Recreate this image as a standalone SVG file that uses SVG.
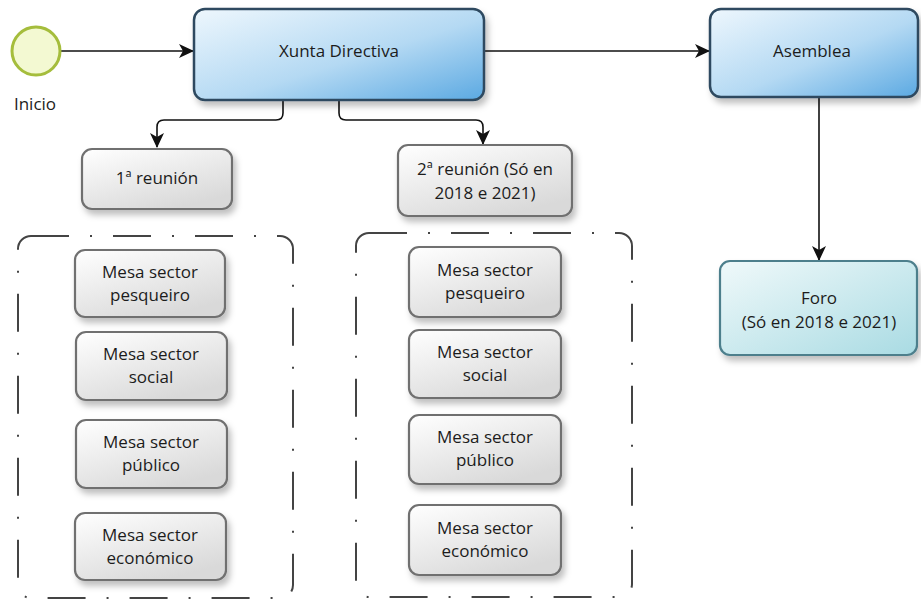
<svg xmlns="http://www.w3.org/2000/svg" width="921" height="605" viewBox="0 0 921 605">
<style>
text{font-family:"Open Sans","Noto Sans","Liberation Sans",sans-serif;font-size:17px;fill:#1c1c1c;text-anchor:middle}
.blue{fill:url(#gBlue);stroke:#2e4a60;stroke-width:2.5}
.gray{fill:url(#gGray);stroke:#707070;stroke-width:2.2}
.foro{fill:url(#gForo);stroke:#4d7f8c;stroke-width:2.2}
.cont{fill:none;stroke:#444;stroke-width:2;stroke-dasharray:38 21 2 21}
.conn{fill:none;stroke:#111;stroke-width:1.6}
</style>
<defs>
<linearGradient id="gBlue" x1="0" y1="0" x2="1" y2="1">
<stop offset="0" stop-color="#eef7fd"/><stop offset="0.55" stop-color="#b4d9f3"/><stop offset="1" stop-color="#5ba9e2"/>
</linearGradient>
<linearGradient id="gGray" x1="0" y1="0" x2="0.6" y2="1">
<stop offset="0" stop-color="#ffffff"/><stop offset="1" stop-color="#d9d9d9"/>
</linearGradient>
<linearGradient id="gForo" x1="0" y1="0" x2="1" y2="1">
<stop offset="0" stop-color="#f0f9fa"/><stop offset="1" stop-color="#a9dbe3"/>
</linearGradient>
<filter id="sh" x="-10%" y="-10%" width="130%" height="140%">
<feDropShadow dx="3" dy="5" stdDeviation="3" flood-color="#000" flood-opacity="0.25"/>
</filter>
<marker id="arr" markerUnits="userSpaceOnUse" markerWidth="16" markerHeight="14" refX="14" refY="7" orient="auto">
<path d="M0,0 L15,7 L0,14 L4,7 Z" fill="#111"/>
</marker>
</defs>

<g id="connectors">
<path class="conn" d="M61,51 H193" marker-end="url(#arr)"/>
<path class="conn" d="M484,51 H709" marker-end="url(#arr)"/>
<path class="conn" d="M819,97 V260" marker-end="url(#arr)"/>
<path class="conn" d="M283,100 V113 Q283,120 276,120 H164 Q157,120 157,127 V147" marker-end="url(#arr)"/>
<path class="conn" d="M339,100 V113 Q339,120 346,120 H476 Q483,120 483,127 V144" marker-end="url(#arr)"/>
</g>

<g id="inicio">
<circle cx="36" cy="51" r="24" fill="#f3f9d2" stroke="#a5bd3c" stroke-width="3"/>
<text x="35" y="110">Inicio</text>
</g>

<g id="xunta">
<rect class="blue" x="194" y="9" width="290" height="91" rx="11" filter="url(#sh)"/>
<text x="339" y="57">Xunta Directiva</text>
</g>

<g id="asemblea">
<rect class="blue" x="710" y="9" width="208" height="88" rx="11" filter="url(#sh)"/>
<text x="812" y="57">Asemblea</text>
</g>

<g id="foro">
<rect class="foro" x="720" y="261" width="197" height="94" rx="10" filter="url(#sh)"/>
<text x="819" y="304">Foro</text>
<text x="819" y="328">(Só en 2018 e 2021)</text>
</g>

<g id="reunion1">
<rect class="gray" x="82" y="149" width="150" height="60" rx="10" filter="url(#sh)"/>
<text x="157" y="184">1ª reunión</text>
</g>

<g id="reunion2">
<rect class="gray" x="398" y="145" width="174" height="71" rx="10" filter="url(#sh)"/>
<text x="485" y="175">2ª reunión (Só en</text>
<text x="485" y="199">2018 e 2021)</text>
</g>

<g id="grupo1">
<rect class="cont" x="18" y="236" width="275" height="362" rx="13"/>
</g>
<g id="grupo2">
<rect class="cont" x="356" y="233" width="276" height="364" rx="13"/>
</g>

<g id="m1a"><rect class="gray" x="75" y="250" width="150" height="67" rx="10" filter="url(#sh)"/><text x="150" y="278">Mesa sector</text><text x="150" y="301">pesqueiro</text></g>
<g id="m1b"><rect class="gray" x="76" y="332" width="151" height="68" rx="10" filter="url(#sh)"/><text x="151" y="360">Mesa sector</text><text x="151" y="383">social</text></g>
<g id="m1c"><rect class="gray" x="76" y="420" width="151" height="68" rx="10" filter="url(#sh)"/><text x="151" y="448">Mesa sector</text><text x="151" y="471">público</text></g>
<g id="m1d"><rect class="gray" x="75" y="513" width="151" height="67" rx="10" filter="url(#sh)"/><text x="150" y="541">Mesa sector</text><text x="150" y="564">económico</text></g>

<g id="m2a"><rect class="gray" x="409" y="247" width="152" height="70" rx="10" filter="url(#sh)"/><text x="485" y="276">Mesa sector</text><text x="485" y="299">pesqueiro</text></g>
<g id="m2b"><rect class="gray" x="409" y="330" width="152" height="68" rx="10" filter="url(#sh)"/><text x="485" y="358">Mesa sector</text><text x="485" y="381">social</text></g>
<g id="m2c"><rect class="gray" x="409" y="415" width="152" height="69" rx="10" filter="url(#sh)"/><text x="485" y="443">Mesa sector</text><text x="485" y="466">público</text></g>
<g id="m2d"><rect class="gray" x="409" y="505" width="152" height="70" rx="10" filter="url(#sh)"/><text x="485" y="534">Mesa sector</text><text x="485" y="557">económico</text></g>
</svg>
